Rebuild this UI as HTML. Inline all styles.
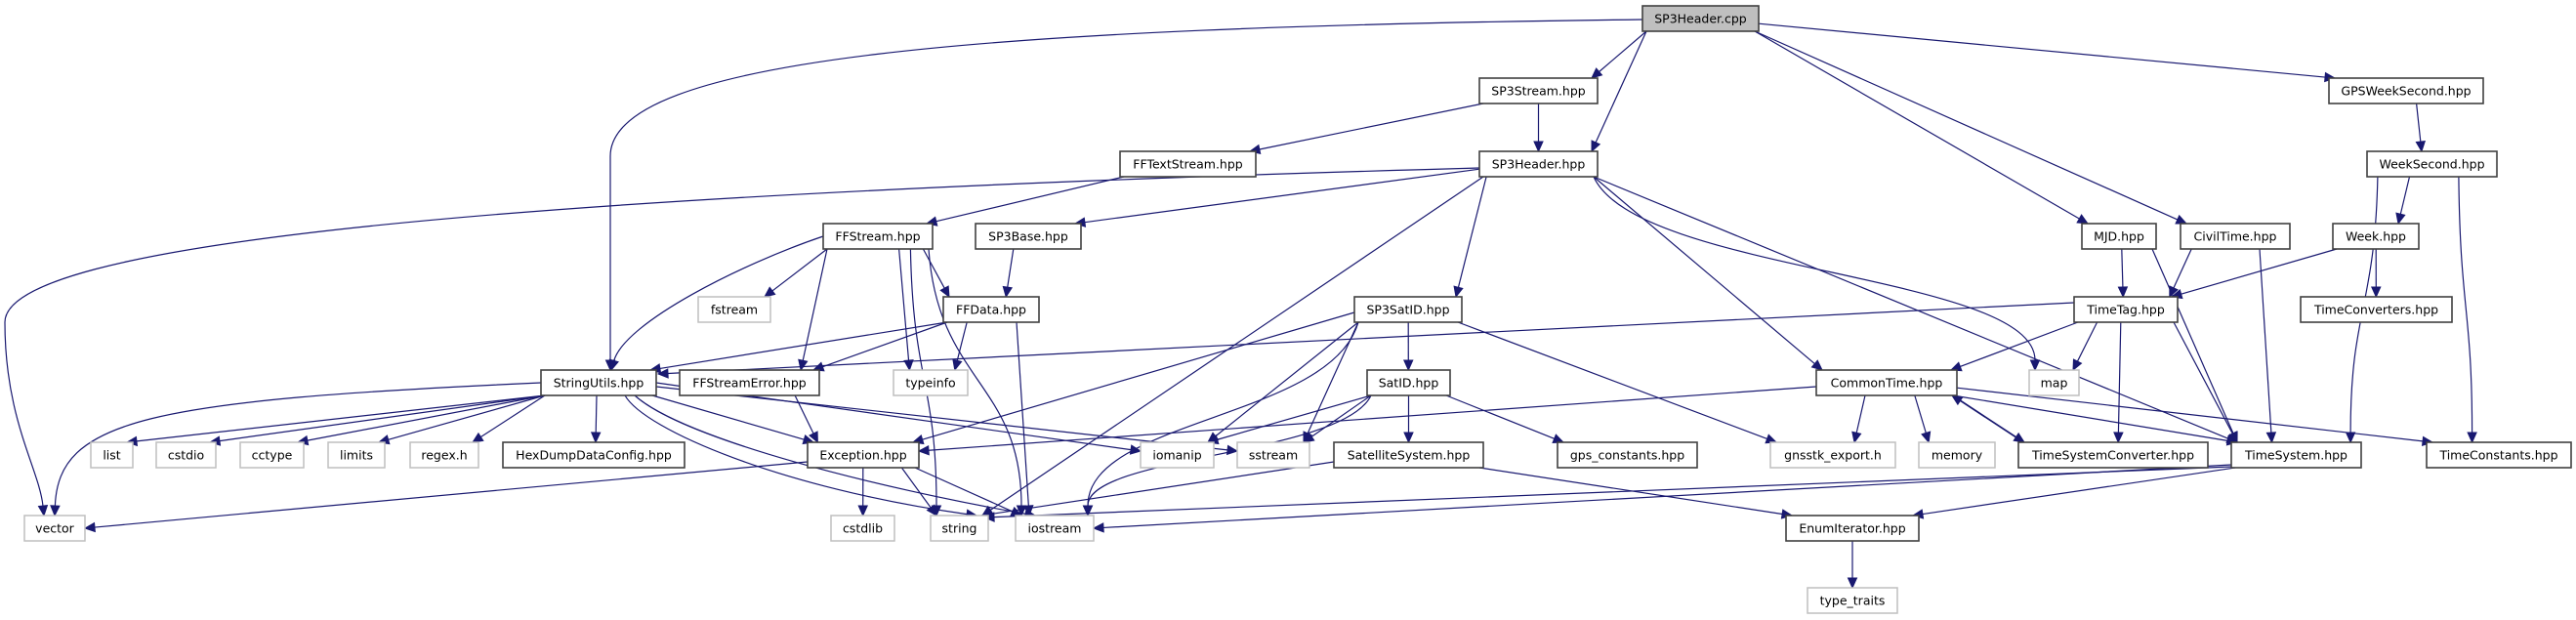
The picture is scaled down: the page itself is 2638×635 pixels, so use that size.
<!DOCTYPE html>
<html><head><meta charset="utf-8"><style>
html,body{margin:0;padding:0;background:#fff;width:2638px;height:635px;overflow:hidden}
svg text{font-family:"DejaVu Sans","Liberation Sans",sans-serif;font-size:12.5px;fill:#000;text-anchor:middle;dominant-baseline:central}
.g rect{fill:#fff;stroke:#bfbfbf;stroke-width:1.5}
.b rect{fill:#fff;stroke:#404040;stroke-width:1.6}
.r rect{fill:#bfbfbf;stroke:#404040;stroke-width:1.6}
</style></head><body>
<svg id="s" width="2638" height="635" viewBox="0 0 2638 635" xmlns="http://www.w3.org/2000/svg">
<g id="edges" fill="none" stroke="#191970" stroke-width="1.2"></g>
<g id="arrows" fill="#191970" stroke="#191970" stroke-width="1"></g>
<g class="n r" id="cpp"><rect x="1682" y="6" width="119" height="26"/><text x="1741.5" y="19">SP3Header.cpp</text></g>
<g class="n b" id="s3s"><rect x="1515" y="80" width="121" height="26"/><text x="1575.5" y="93">SP3Stream.hpp</text></g>
<g class="n b" id="fft"><rect x="1147" y="155" width="139" height="26"/><text x="1216.5" y="168">FFTextStream.hpp</text></g>
<g class="n b" id="s3h"><rect x="1515" y="155" width="121" height="26"/><text x="1575.5" y="168">SP3Header.hpp</text></g>
<g class="n b" id="gws"><rect x="2385" y="80" width="158" height="26"/><text x="2464" y="93">GPSWeekSecond.hpp</text></g>
<g class="n b" id="wks"><rect x="2424" y="155" width="133" height="26"/><text x="2490.5" y="168">WeekSecond.hpp</text></g>
<g class="n b" id="ffs"><rect x="843" y="229" width="112" height="26"/><text x="899" y="242">FFStream.hpp</text></g>
<g class="n b" id="s3b"><rect x="999" y="229" width="108" height="26"/><text x="1053" y="242">SP3Base.hpp</text></g>
<g class="n b" id="mjd"><rect x="2132" y="229" width="76" height="26"/><text x="2170" y="242">MJD.hpp</text></g>
<g class="n b" id="civ"><rect x="2233" y="229" width="112" height="26"/><text x="2289" y="242">CivilTime.hpp</text></g>
<g class="n b" id="wk"><rect x="2389" y="229" width="88" height="26"/><text x="2433" y="242">Week.hpp</text></g>
<g class="n g" id="fst"><rect x="715" y="304" width="74" height="26"/><text x="752" y="317">fstream</text></g>
<g class="n b" id="ffd"><rect x="966" y="304" width="98" height="26"/><text x="1015" y="317">FFData.hpp</text></g>
<g class="n b" id="sat"><rect x="1387" y="304" width="110" height="26"/><text x="1442" y="317">SP3SatID.hpp</text></g>
<g class="n b" id="tt"><rect x="2124" y="304" width="106" height="26"/><text x="2177" y="317">TimeTag.hpp</text></g>
<g class="n b" id="tc"><rect x="2356" y="304" width="155" height="26"/><text x="2433.5" y="317">TimeConverters.hpp</text></g>
<g class="n b" id="su"><rect x="554" y="379" width="118" height="26"/><text x="613" y="392">StringUtils.hpp</text></g>
<g class="n b" id="fse"><rect x="696" y="379" width="143" height="26"/><text x="767.5" y="392">FFStreamError.hpp</text></g>
<g class="n g" id="ti"><rect x="915" y="379" width="76" height="26"/><text x="953" y="392">typeinfo</text></g>
<g class="n b" id="sid"><rect x="1400" y="379" width="85" height="26"/><text x="1442.5" y="392">SatID.hpp</text></g>
<g class="n b" id="ct"><rect x="1860" y="379" width="144" height="26"/><text x="1932" y="392">CommonTime.hpp</text></g>
<g class="n g" id="map"><rect x="2078" y="379" width="51" height="26"/><text x="2103.5" y="392">map</text></g>
<g class="n g" id="lst"><rect x="93" y="453" width="43" height="26"/><text x="114.5" y="466">list</text></g>
<g class="n g" id="cst"><rect x="160" y="453" width="61" height="26"/><text x="190.5" y="466">cstdio</text></g>
<g class="n g" id="cct"><rect x="246" y="453" width="65" height="26"/><text x="278.5" y="466">cctype</text></g>
<g class="n g" id="lim"><rect x="336" y="453" width="58" height="26"/><text x="365" y="466">limits</text></g>
<g class="n g" id="rgx"><rect x="420" y="453" width="70" height="26"/><text x="455" y="466">regex.h</text></g>
<g class="n b" id="hex"><rect x="515" y="453" width="186" height="26"/><text x="608" y="466">HexDumpDataConfig.hpp</text></g>
<g class="n b" id="exc"><rect x="827" y="453" width="114" height="26"/><text x="884" y="466">Exception.hpp</text></g>
<g class="n g" id="iom"><rect x="1168" y="453" width="75" height="26"/><text x="1205.5" y="466">iomanip</text></g>
<g class="n g" id="sst"><rect x="1267" y="453" width="74" height="26"/><text x="1304" y="466">sstream</text></g>
<g class="n b" id="ss"><rect x="1366" y="453" width="153" height="26"/><text x="1442.5" y="466">SatelliteSystem.hpp</text></g>
<g class="n b" id="gps"><rect x="1595" y="453" width="143" height="26"/><text x="1666.5" y="466">gps_constants.hpp</text></g>
<g class="n g" id="gex"><rect x="1813" y="453" width="128" height="26"/><text x="1877" y="466">gnsstk_export.h</text></g>
<g class="n g" id="mem"><rect x="1965" y="453" width="78" height="26"/><text x="2004" y="466">memory</text></g>
<g class="n b" id="tsc"><rect x="2067" y="453" width="194" height="26"/><text x="2164" y="466">TimeSystemConverter.hpp</text></g>
<g class="n b" id="ts"><rect x="2285" y="453" width="133" height="26"/><text x="2351.5" y="466">TimeSystem.hpp</text></g>
<g class="n b" id="tcs"><rect x="2485" y="453" width="148" height="26"/><text x="2559" y="466">TimeConstants.hpp</text></g>
<g class="n g" id="vec"><rect x="25" y="528" width="62" height="26"/><text x="56" y="541">vector</text></g>
<g class="n g" id="csl"><rect x="851" y="528" width="65" height="26"/><text x="883.5" y="541">cstdlib</text></g>
<g class="n g" id="str"><rect x="953" y="528" width="59" height="26"/><text x="982.5" y="541">string</text></g>
<g class="n g" id="ios"><rect x="1040" y="528" width="80" height="26"/><text x="1080" y="541">iostream</text></g>
<g class="n b" id="enu"><rect x="1829" y="528" width="136" height="26"/><text x="1897" y="541">EnumIterator.hpp</text></g>
<g class="n g" id="typ"><rect x="1851" y="602" width="92" height="26"/><text x="1897" y="615">type_traits</text></g>
</svg>
<script>
(function(){
var N={};
document.querySelectorAll('g.n').forEach(function(g){var r=g.querySelector('rect');
N[g.id]={x:+r.getAttribute('x'),y:+r.getAttribute('y'),w:+r.getAttribute('width'),h:+r.getAttribute('height')};});
var E=document.getElementById('edges'),A=document.getElementById('arrows'),NS='http://www.w3.org/2000/svg';
function cl(v,m){return Math.max(-m,Math.min(m,v));}
function draw(d,cx,cy,ex,ey){
 var p=document.createElementNS(NS,'path');
 var dx=ex-cx,dy=ey-cy,L=Math.sqrt(dx*dx+dy*dy)||1,ux=dx/L,uy=dy/L;
 var bx=ex-ux*10,by=ey-uy*10;
 p.setAttribute('d',d(bx,by));E.appendChild(p);
 var a=document.createElementNS(NS,'polygon');
 a.setAttribute('points',ex+','+ey+' '+(bx-uy*4.5)+','+(by+ux*4.5)+' '+(bx+uy*4.5)+','+(by-ux*4.5));
 A.appendChild(a);
}
function line(sx,sy,ex,ey){draw(function(x,y){return 'M'+sx+','+sy+' L'+x+','+y;},sx,sy,ex,ey);}
function curve(sx,sy,c1x,c1y,c2x,c2y,ex,ey){draw(function(x,y){return 'M'+sx+','+sy+' C'+c1x+','+c1y+' '+c2x+','+c2y+' '+x+','+y;},c2x,c2y,ex,ey);}
var CURV={'ffs-str':1,'ffs-ios':1,'s3h-map':1,'wks-ts':1,'wks-tcs':1,'sid-ios':1,'sat-ios':1};
function edge(s,t){
 var a=N[s],b=N[t];
 var acx=a.x+a.w/2,bcx=b.x+b.w/2;
 if(b.y<a.y){
  var sx=acx+cl((bcx-acx)*0.5,a.w/2-5),ex=bcx+cl((acx-bcx)*0.5,b.w/2-5);
  line(sx,a.y,ex,b.y+b.h);return;}
 var rows=Math.round((b.y-a.y)/74.5);
 var dx=bcx-acx;
 var sx,sy,ex,ey;
 if(Math.abs(dx)>rows*500 && rows<=1){
  sx=dx<0?a.x:a.x+a.w; sy=a.y+a.h*0.7;
  ex=dx<0?b.x+b.w-6:b.x+6; ey=b.y;
 } else {
  sx=acx+cl(dx*0.4,a.w/2-4); sy=a.y+a.h;
  ex=bcx+cl(-dx*0.4,b.w/2-6); ey=b.y;
 }
 if(CURV[s+'-'+t]){var k=ey-sy;curve(sx,sy,sx+(ex-sx)*0.1,sy+k*0.5,ex,ey-k*0.5,ex,ey);}
 else line(sx,sy,ex,ey);
}
var L=[['cpp','s3s'],['cpp','s3h'],['cpp','mjd'],['cpp','civ'],['cpp','gws'],
['s3s','fft'],['s3s','s3h'],['fft','ffs'],
['s3h','s3b'],['s3h','str'],['s3h','sat'],['s3h','ct'],['s3h','ts'],['s3h','map'],
['ffs','fst'],['ffs','fse'],['ffs','ffd'],['ffs','ti'],['ffs','str'],['ffs','ios'],
['s3b','ffd'],['ffd','su'],['ffd','fse'],['ffd','ti'],['ffd','ios'],
['sat','iom'],['sat','sst'],['sat','sid'],['sat','ios'],['sat','gex'],
['sid','iom'],['sid','sst'],['sid','ss'],['sid','gps'],['sid','ios'],
['tt','ct'],['tt','map'],['tt','tsc'],['tt','ts'],
['mjd','tt'],['mjd','ts'],['civ','tt'],['civ','ts'],['wk','tt'],['wk','tc'],
['wks','wk'],['wks','ts'],['wks','tcs'],['gws','wks'],
['su','lst'],['su','cst'],['su','cct'],['su','lim'],['su','rgx'],['su','hex'],['su','exc'],
['fse','exc'],['exc','csl'],['exc','str'],['exc','ios'],
['ct','gex'],['ct','mem'],['ct','tsc'],['ct','ts'],['ct','tcs'],
['tsc','ct'],['ts','enu'],['ss','enu'],['enu','typ']];
L.forEach(function(e){edge(e[0],e[1]);});
// special edges
draw(function(x,y){return 'M1682,20 C1000,28 625,60 625,160 L'+x+','+y;},625,300,625,379);
draw(function(x,y){return 'M1515,172 C500,200 5,250 5,330 C5,430 40,480 '+x+','+y;},40,480,45,528);
line(2124,310,674,383);
curve(843,242,760,270,640,330,626,379);
curve(554,392,150,410,60,430,56,528);
line(827,473,87,541);
line(672,392,1168,462);
line(672,396,1267,462);
curve(640,405,660,440,800,500,1000,528);
curve(650,405,700,450,900,500,1060,528);
line(1387,320,935,453);
line(1860,396,941,462);
line(2285,478,1008,530);
line(2285,476,1120,541);
line(1366,473,1005,528);
})();
</script>
</body></html>
